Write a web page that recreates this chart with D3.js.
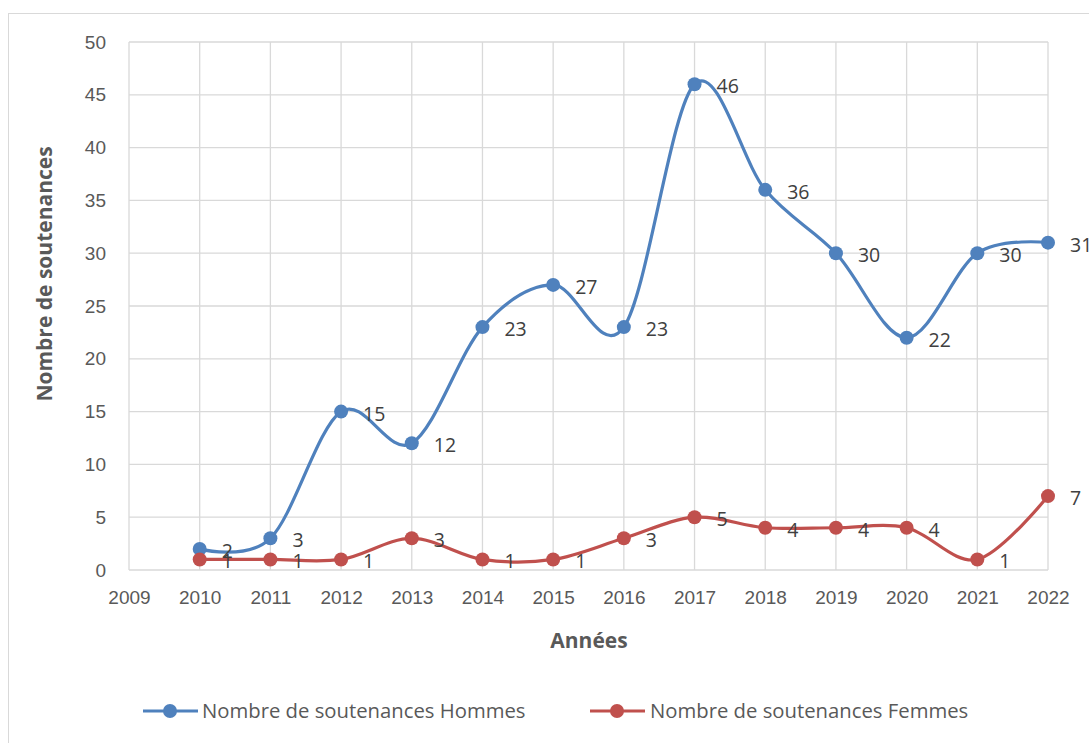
<!DOCTYPE html>
<html><head><meta charset="utf-8">
<script src="https://cdn.jsdelivr.net/npm/d3@7"></script>
<style>body{margin:0;background:#fff;}svg{display:block;font-family:"Open Sans","Noto Sans",sans-serif;}</style>
</head><body>
<svg id="c" width="1089" height="743"></svg>
<script>
const years = [2010,2011,2012,2013,2014,2015,2016,2017,2018,2019,2020,2021,2022];
const hommes = [2,3,15,12,23,27,23,46,36,30,22,30,31];
const femmes = [1,1,1,3,1,1,3,5,4,4,4,1,7];
const yTicks = [0,5,10,15,20,25,30,35,40,45,50];
const xTicks = [2009,2010,2011,2012,2013,2014,2015,2016,2017,2018,2019,2020,2021,2022];
const seriesNames = ["Nombre de soutenances Hommes","Nombre de soutenances Femmes"];
const colors = ["#4F81BD","#C0504D"];

const svg = d3.select("#c");
svg.append("rect").attr("x",8.5).attr("y",13.5).attr("width",1100).attr("height",760)
  .attr("fill","#fff").attr("stroke","#d9d9d9");

const x = d3.scaleLinear().domain([2009,2022]).range([129,1048]);
const y = d3.scaleLinear().domain([0,50]).range([570,42]);

const g = svg.append("g");
g.selectAll(".hg").data(yTicks).join("line")
  .attr("x1",x(2009)).attr("x2",x(2022)).attr("y1",d=>y(d)).attr("y2",d=>y(d))
  .attr("stroke","#d9d9d9").attr("stroke-width",1.3);
g.selectAll(".vg").data(xTicks).join("line")
  .attr("x1",d=>x(d)).attr("x2",d=>x(d)).attr("y1",y(0)).attr("y2",y(50))
  .attr("stroke","#d9d9d9").attr("stroke-width",1.3);

const yAxis = d3.axisLeft(y).tickValues(yTicks).tickSize(0).tickPadding(23);
const ya = svg.append("g").attr("transform",`translate(${x(2009)},0)`).call(yAxis);
ya.select(".domain").remove();
ya.selectAll("text").attr("fill","#595959").style("font-size","19px").style("font-family","inherit");

const xAxis = d3.axisBottom(x).tickValues(xTicks).tickSize(0).tickPadding(21).tickFormat(d3.format("d"));
const xa = svg.append("g").attr("transform",`translate(0,${y(0)})`).call(xAxis);
xa.select(".domain").remove();
xa.selectAll("text").attr("fill","#595959").style("font-size","19px").style("font-family","inherit");

svg.append("text").attr("x",589).attr("y",648).attr("text-anchor","middle")
  .attr("font-weight","bold").attr("font-size","21px").attr("fill","#595959").text("Années");
svg.append("text").attr("transform","translate(52,274) rotate(-90)").attr("text-anchor","middle")
  .attr("font-weight","bold").attr("font-size","21px").attr("fill","#595959").text("Nombre de soutenances");

const line = d3.line().x(d=>x(d[0])).y(d=>y(d[1])).curve(d3.curveCardinal.tension(0));
[hommes,femmes].forEach((vals,i)=>{
  const pts = years.map((yr,j)=>[yr,vals[j]]);
  svg.append("path").datum(pts).attr("d",line).attr("fill","none")
    .attr("stroke",colors[i]).attr("stroke-width",3.2).attr("stroke-linecap","round");
  svg.append("g").selectAll("circle").data(pts).join("circle")
    .attr("cx",d=>x(d[0])).attr("cy",d=>y(d[1])).attr("r",7).attr("fill",colors[i]);
});
[hommes,femmes].forEach((vals,i)=>{
  const pts = years.map((yr,j)=>[yr,vals[j]]);
  svg.append("g").selectAll("text").data(pts).join("text")
    .attr("x",d=>x(d[0])+22).attr("y",d=>y(d[1])+2).attr("dy","0.36em")
    .attr("font-size","19.5px").attr("fill","#404040").text(d=>d[1]);
});

const leg = [[143,202],[590,650]];
seriesNames.forEach((n,i)=>{
  const lx = leg[i][0];
  svg.append("line").attr("x1",lx).attr("x2",lx+55).attr("y1",711).attr("y2",711)
    .attr("stroke",colors[i]).attr("stroke-width",3.2);
  svg.append("circle").attr("cx",lx+27).attr("cy",711).attr("r",7).attr("fill",colors[i]);
  svg.append("text").attr("x",leg[i][1]).attr("y",711).attr("dy","0.36em")
    .attr("font-size","20.3px").attr("fill","#595959").text(n);
});
</script>
</body></html>
